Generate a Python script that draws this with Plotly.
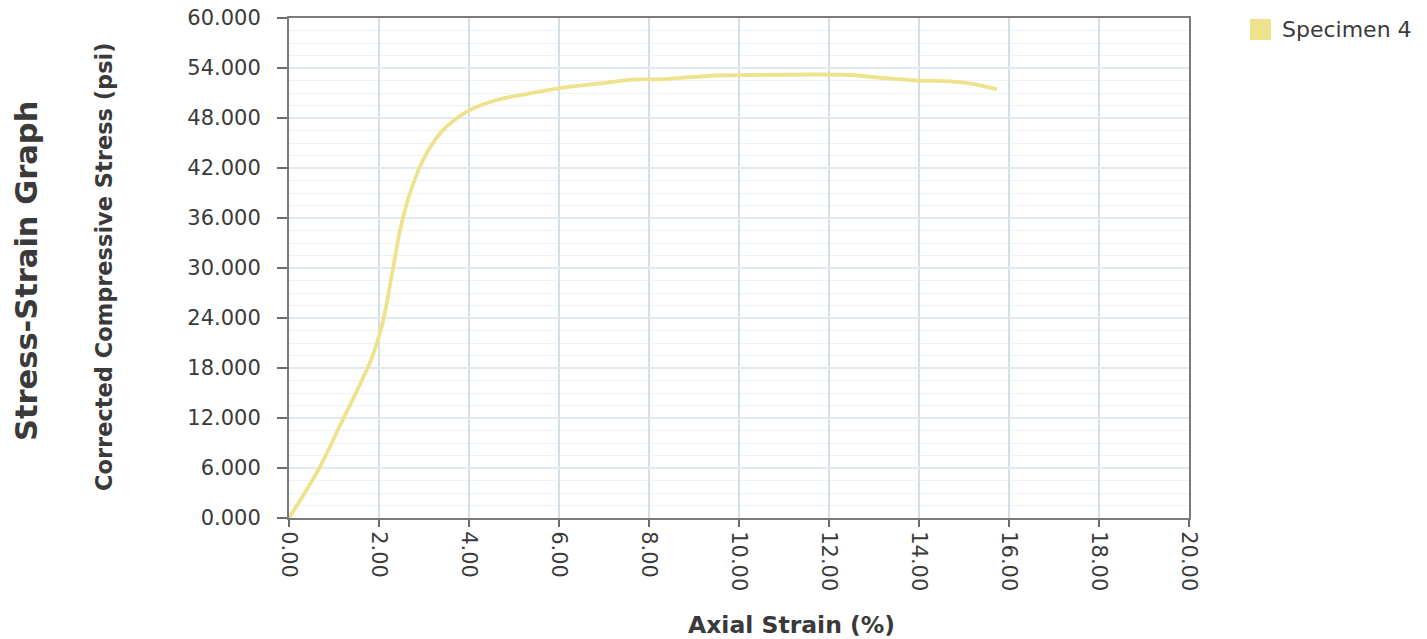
import plotly.graph_objects as go

# Specimen 4 stress-strain readings
strain_pct = [0, 0.65, 1.17, 1.61, 1.84, 2.02, 2.13, 2.24, 2.36, 2.47, 2.69, 2.98,
              3.36, 3.73, 4.02, 4.62, 5.36, 6.17, 6.91, 7.65, 8.24, 9.5, 10.24,
              12.47, 13.2, 13.95, 14.69, 15.13, 15.73]
stress_psi = [0, 5760, 11500, 16400, 19200, 22200, 24600, 27800, 31400, 34600,
              39000, 42960, 46160, 47960, 48960, 50160, 50960, 51700, 52150, 52600,
              52640, 53100, 53160, 53160, 52800, 52500, 52400, 52150, 51440]

# Axis ticks
x_ticks = [0, 2, 4, 6, 8, 10, 12, 14, 16, 18, 20]
y_ticks = [0, 6000, 12000, 18000, 24000, 30000, 36000, 42000, 48000, 54000, 60000]
y_tick_labels = ["0.000", "6.000", "12.000", "18.000", "24.000", "30.000",
                 "36.000", "42.000", "48.000", "54.000", "60.000"]

series_name = "Specimen 4"
series_color = "#EEE38C"

W, H = 1427, 639
L, R, T, B = 289, 238, 18, 121
plot_w = W - L - R
plot_h = H - T - B


def px_x(px):
    return (px - L) / plot_w


def px_y(py):
    return (H - B - py) / plot_h


fig = go.Figure()
fig.add_trace(go.Scatter(
    x=strain_pct, y=stress_psi, mode="lines", name=series_name,
    line=dict(color=series_color, width=3.8, shape="spline", smoothing=1.0),
    showlegend=False, hoverinfo="x+y",
))

font_family = "DejaVu Sans"
tick_font = dict(family=font_family, size=21, color="#3a3a3a")

fig.update_layout(
    width=W, height=H,
    margin=dict(l=L, r=R, t=T, b=B, pad=0, autoexpand=False),
    paper_bgcolor="white", plot_bgcolor="white",
    showlegend=False,
    xaxis=dict(
        range=[0, 20], tickvals=x_ticks, tickformat=".2f", tickangle=90,
        tickfont=tick_font, ticks="outside", ticklen=7, tickwidth=1.5,
        tickcolor="#6b6b6b", automargin=False,
        showgrid=True, gridcolor="#d3dfe7", gridwidth=1.5,
        showline=True, linecolor="#7a7a7a", linewidth=2, mirror=True,
        zeroline=False, fixedrange=True,
    ),
    yaxis=dict(
        range=[0, 60000], tickvals=y_ticks, ticktext=y_tick_labels,
        tickfont=tick_font, ticks="outside", ticklen=10, tickwidth=1.5,
        tickcolor="#6b6b6b", ticklabelstandoff=12, automargin=False,
        showgrid=True, gridcolor="#e2eaef", gridwidth=1.5,
        minor=dict(dtick=1500, showgrid=True, gridcolor="#ecf2f5", gridwidth=1.2,
                   ticks=""),
        showline=True, linecolor="#7a7a7a", linewidth=2, mirror=True,
        zeroline=False, fixedrange=True,
    ),
)

title_color = "#3a3a3a"
fig.add_annotation(
    text="<b>Stress-Strain Graph</b>", textangle=-90,
    xref="paper", yref="paper", x=px_x(26), y=px_y(271),
    xanchor="center", yanchor="middle", showarrow=False,
    font=dict(family=font_family, size=30.5, color=title_color),
)
fig.add_annotation(
    text="<b>Corrected Compressive Stress (psi)</b>", textangle=-90,
    xref="paper", yref="paper", x=px_x(104), y=px_y(267),
    xanchor="center", yanchor="middle", showarrow=False,
    font=dict(family=font_family, size=22.5, color=title_color),
)
fig.add_annotation(
    text="<b>Axial Strain (%)</b>",
    xref="paper", yref="paper", x=px_x(791), y=px_y(625),
    xanchor="center", yanchor="middle", showarrow=False,
    font=dict(family=font_family, size=23.5, color=title_color),
)

# Legend entry: swatch plus label
fig.add_shape(
    type="rect", xref="paper", yref="paper",
    x0=px_x(1250), x1=px_x(1271), y0=px_y(40), y1=px_y(19),
    fillcolor=series_color, line=dict(width=0),
)
fig.add_annotation(
    text=series_name, xref="paper", yref="paper",
    x=px_x(1280), y=px_y(29.5), xanchor="left", yanchor="middle",
    showarrow=False, font=dict(family=font_family, size=22, color="#3a3a3a"),
)

fig.write_html("out.html", config={"displayModeBar": False})
